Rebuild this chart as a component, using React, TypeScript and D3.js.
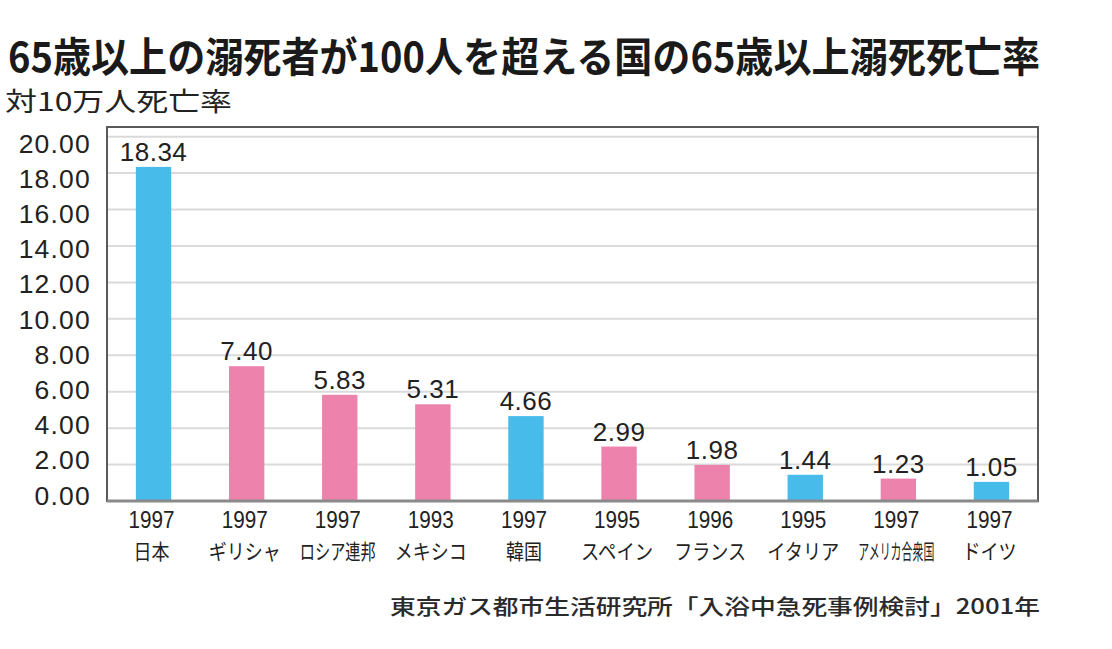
import React from "react";
import * as d3 from "d3";

const countries = ["日本", "ギリシャ", "ロシア連邦", "メキシコ", "韓国", "スペイン", "フランス", "イタリア", "アメリカ合衆国", "ドイツ"];
const years = ["1997", "1997", "1997", "1993", "1997", "1995", "1996", "1995", "1997", "1997"];
const rates = [18.34, 7.4, 5.83, 5.31, 4.66, 2.99, 1.98, 1.44, 1.23, 1.05];
const highlighted = [true, false, false, false, true, false, false, true, false, true];
const yTicks = [0, 2, 4, 6, 8, 10, 12, 14, 16, 18, 20];

const TITLE = "65歳以上の溺死者が100人を超える国の65歳以上溺死死亡率";
const UNIT = "対10万人死亡率";
const SOURCE = "東京ガス都市生活研究所「入浴中急死事例検討」2001年";

const W = 1112;
const H = 649;
const plot = { left: 107, right: 1038, top: 127, bottom: 501 };
const BLUE = "#47bbea";
const PINK = "#ed82ad";
const JP = "'Noto Sans CJK JP', 'Noto Sans', sans-serif";
const NUM = "'Liberation Sans', Arial, sans-serif";

export default function App() {
  const x = d3
    .scaleBand<string>()
    .domain(countries)
    .range([plot.left, plot.right])
    .paddingInner(0.62)
    .paddingOuter(0.31);
  const y = d3.scaleLinear().domain([0, 20.53]).range([plot.bottom, plot.top]);
  const yLabel = d3.scaleLinear().domain([0, 20]).range([495, 143]);
  const fmt = d3.format(".2f");

  return (
    <svg
      width={W}
      height={H}
      style={{ position: "absolute", left: 0, top: 0, background: "#fff" }}
    >
      <rect x={0} y={0} width={W} height={H} fill="#fff" />
      <text
        transform="translate(8,72) scale(1,1.08)"
        x={0}
        y={0}
        fontFamily={JP}
        fontWeight={700}
        fontSize={38}
        fill="#1a1a1a"
        textLength={1032}
        lengthAdjust="spacingAndGlyphs"
      >
        {TITLE}
      </text>
      <text
        transform="translate(5,111) scale(1,1.08)"
        x={0}
        y={0}
        fontFamily={JP}
        fontWeight={400}
        fontSize={24}
        fill="#222"
        textLength={227}
        lengthAdjust="spacingAndGlyphs"
      >
        {UNIT}
      </text>

      {/* gridlines */}
      {yTicks
        .filter((t) => t > 0)
        .map((t) => (
          <line
            key={"g" + t}
            x1={plot.left}
            x2={plot.right}
            y1={y(t)}
            y2={y(t)}
            stroke="#dadada"
            strokeWidth={2}
          />
        ))}

      {/* y tick labels */}
      {yTicks.map((t) => (
        <text
          key={"t" + t}
          x={91}
          y={yLabel(t) + 9.5}
          textAnchor="end"
          fontFamily={NUM}
          fontSize={26.5}
          letterSpacing={1.2}
          fill="#222"
        >
          {fmt(t)}
        </text>
      ))}

      {/* bars */}
      {countries.map((c, i) => (
        <rect
          key={"b" + c}
          x={x(c)}
          y={y(rates[i])}
          width={x.bandwidth()}
          height={y(0) - y(rates[i])}
          fill={highlighted[i] ? BLUE : PINK}
        />
      ))}

      {/* value labels */}
      {countries.map((c, i) => (
        <text
          key={"v" + c}
          x={(x(c) ?? 0) + x.bandwidth() / 2}
          y={y(rates[i]) - 6}
          textAnchor="middle"
          fontFamily={NUM}
          fontSize={26}
          letterSpacing={0.5}
          fill="#222"
        >
          {fmt(rates[i])}
        </text>
      ))}

      {/* frame */}
      <rect
        x={plot.left}
        y={plot.top}
        width={plot.right - plot.left}
        height={plot.bottom - plot.top}
        fill="none"
        stroke="#5a5a5a"
        strokeWidth={2}
      />
      <line x1={plot.left} x2={plot.right} y1={plot.bottom} y2={plot.bottom} stroke="#8a8a8a" strokeWidth={3} />

      {/* x labels */}
      {countries.map((c, i) => {
        const cx = (x(c) ?? 0) + x.bandwidth() / 2 - 2;
        const baseSize = 21;
        const maxW = 76;
        const fs = Math.min(baseSize, maxW / c.length);
        const sy = baseSize / fs;
        const nameW = Math.min(c.length * 18, maxW);
        return (
          <g key={"x" + c}>
            <text
              x={cx}
              y={528}
              textAnchor="middle"
              fontFamily={NUM}
              fontSize={24}
              textLength={46}
              lengthAdjust="spacingAndGlyphs"
              fill="#222"
            >
              {years[i]}
            </text>
            <text
              transform={`translate(${cx},559) scale(1,${sy})`}
              x={0}
              y={0}
              textAnchor="middle"
              fontFamily={JP}
              fontWeight={400}
              fontSize={fs}
              textLength={nameW}
              lengthAdjust="spacingAndGlyphs"
              fill="#222"
            >
              {c}
            </text>
          </g>
        );
      })}

      <text
        x={390}
        y={614}
        fontFamily={JP}
        fontWeight={500}
        fontSize={21}
        fill="#2a2a2a"
        textLength={650}
        lengthAdjust="spacingAndGlyphs"
      >
        {SOURCE}
      </text>
    </svg>
  );
}
